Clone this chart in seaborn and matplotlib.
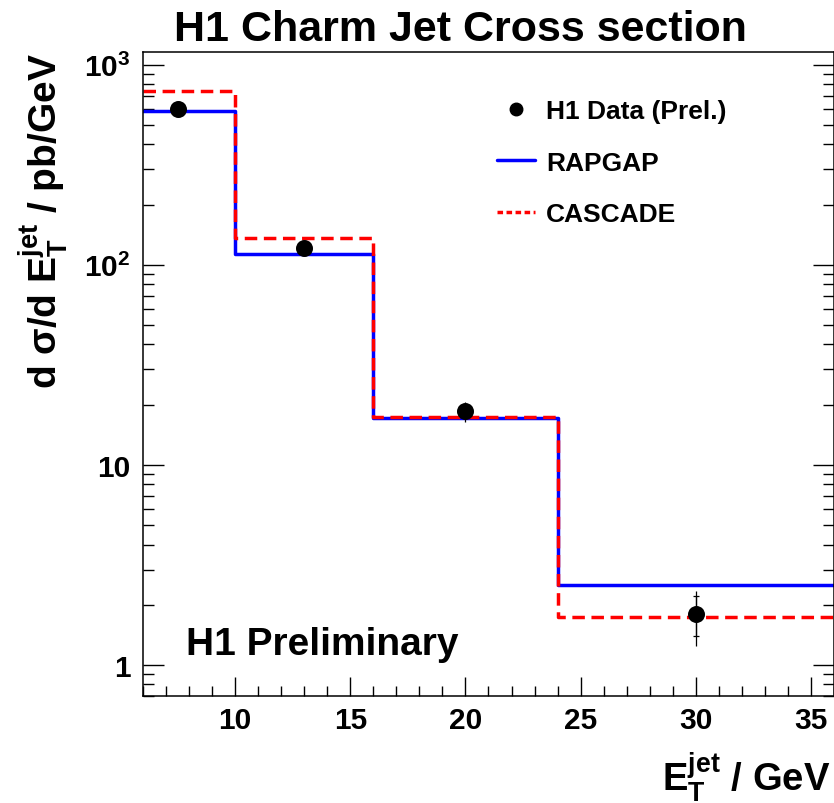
import numpy as np
import pandas as pd
import seaborn as sns
import matplotlib
matplotlib.use("Agg")
import matplotlib.pyplot as plt
from matplotlib.ticker import LogLocator, FuncFormatter, MultipleLocator, NullFormatter
from matplotlib.lines import Line2D

# ---- data ----
bin_edges = [6, 10, 16, 24, 36]
rapgap = [587, 113.5, 17.1, 2.52]
cascade = [740, 136, 17.4, 1.73]
data_x = [7.5, 13, 20, 30]
data_y = [600, 121.6, 18.5, 1.79]
stat_up = [12, 3, 1.0, 0.41]
stat_dn = [12, 3, 1.0, 0.40]
tot_up = [25, 6, 2.2, 0.55]
tot_dn = [25, 6, 2.2, 0.54]
title = "H1 Charm Jet Cross section"
legend_labels = ["H1 Data (Prel.)", "RAPGAP", "CASCADE"]

sns.set_theme(style="ticks")
plt.rcParams["font.family"] = ["Liberation Sans", "DejaVu Sans"]
plt.rcParams["font.weight"] = "bold"
plt.rcParams["text.color"] = "black"
plt.rcParams["axes.labelcolor"] = "black"
plt.rcParams["xtick.color"] = "black"
plt.rcParams["ytick.color"] = "black"
plt.rcParams["mathtext.fontset"] = "custom"
plt.rcParams["mathtext.rm"] = "Liberation Sans:bold"
plt.rcParams["mathtext.it"] = "Liberation Sans:bold"
plt.rcParams["mathtext.bf"] = "Liberation Sans:bold"
plt.rcParams["mathtext.sf"] = "Liberation Sans:bold"

W, H = 834, 804
fig = plt.figure(figsize=(W / 100, H / 100), dpi=100)
L, R, T, B = 143, 834, 53, 697
ax = fig.add_axes([L / W, 1 - B / H, (R - L) / W, (B - T) / H])

def steps(vals):
    return pd.DataFrame({"x": bin_edges, "y": list(vals) + [vals[-1]]})

lw = 2.5
sns.lineplot(data=steps(rapgap), x="x", y="y", ax=ax, color="#0000ff",
             lw=lw, drawstyle="steps-post", sort=False, estimator=None)
sns.lineplot(data=steps(cascade), x="x", y="y", ax=ax, color="#ff0000",
             lw=lw, drawstyle="steps-post", sort=False, estimator=None,
             dashes=False, linestyle=(0, (3.6, 1.9)))

ax.errorbar(data_x, data_y, yerr=[tot_dn, tot_up], fmt="none", ecolor="black",
            elinewidth=0.9, capsize=0, zorder=5)
ax.errorbar(data_x, data_y, yerr=[stat_dn, stat_up], fmt="none", ecolor="black",
            elinewidth=0.9, capsize=2.3, capthick=0.9, zorder=5)
sns.scatterplot(x=data_x, y=data_y, ax=ax, color="black", s=150, marker="o",
                edgecolor="black", linewidth=0, zorder=6)

ax.set_yscale("log")
ax.set_xlim(6, 36)
ax.set_ylim(0.70, 1157)

ax.xaxis.set_major_locator(MultipleLocator(5))
ax.xaxis.set_minor_locator(MultipleLocator(1))
ax.yaxis.set_major_locator(LogLocator(base=10, numticks=10))
ax.yaxis.set_minor_locator(LogLocator(base=10, subs=np.arange(2, 10), numticks=20))
ax.yaxis.set_minor_formatter(NullFormatter())

def yfmt(v, pos):
    e = int(round(np.log10(v)))
    if e == 0:
        return "1"
    if e == 1:
        return "10"
    return r"$\mathregular{10^{%d}}$" % e
ax.yaxis.set_major_formatter(FuncFormatter(yfmt))
ax.xaxis.set_major_formatter(FuncFormatter(lambda v, p: "%d" % v))

ax.tick_params(axis="both", which="major", direction="in", width=1.0,
               labelsize=21.5, color="black", labelcolor="black")
ax.tick_params(axis="x", which="major", length=14, pad=7, top=False)
ax.tick_params(axis="x", which="minor", direction="in", length=7, width=1.0, top=False)
ax.tick_params(axis="y", which="major", length=15, pad=9, right=True)
ax.tick_params(axis="y", which="minor", direction="in", length=8, width=1.0, right=True)
for lab in ax.get_xticklabels() + ax.get_yticklabels():
    lab.set_fontweight("bold")
for s in ax.spines.values():
    s.set_linewidth(1.1)
    s.set_color("black")
    s.set_visible(True)

ax.set_ylabel(r"d $\sigma$/d E$_\mathregular{T}^\mathregular{jet}$ / pb/GeV",
              fontsize=28, fontweight="bold", loc="top", color="black")
ax.yaxis.set_label_coords((70 - L) / (R - L), 1.0)
ax.set_xlabel(r"E$_\mathregular{T}^\mathregular{jet}$ / GeV",
              fontsize=27.5, fontweight="bold", loc="right", color="black")
ax.xaxis.set_label_coords((830 - L) / (R - L), -(750 - B) / (B - T))

fig.text(460 / W, 1 - 41 / H, title, ha="center", va="baseline",
         fontsize=31, fontweight="bold", color="black")
ax.text((186 - L) / (R - L), 1 - (655 - T) / (B - T), "H1 Preliminary",
        transform=ax.transAxes, ha="left", va="baseline", fontsize=28,
        fontweight="bold", color="black")

handles = [
    Line2D([], [], color="black", marker="o", linestyle="none", markersize=9),
    Line2D([], [], color="#0000ff", lw=lw),
    Line2D([], [], color="#ff0000", lw=lw, linestyle=(0, (1.6, 1.0))),
]
leg = ax.legend(handles, legend_labels, loc="upper left",
                bbox_to_anchor=(497 / W, 1 - 100 / H), bbox_transform=fig.transFigure,
                frameon=False, borderpad=0, borderaxespad=0, handlelength=1.45,
                handletextpad=0.4, labelspacing=1.05,
                prop={"size": 19, "weight": "bold"})
for t in leg.get_texts():
    t.set_color("black")

fig.savefig("out.png", dpi=100)
